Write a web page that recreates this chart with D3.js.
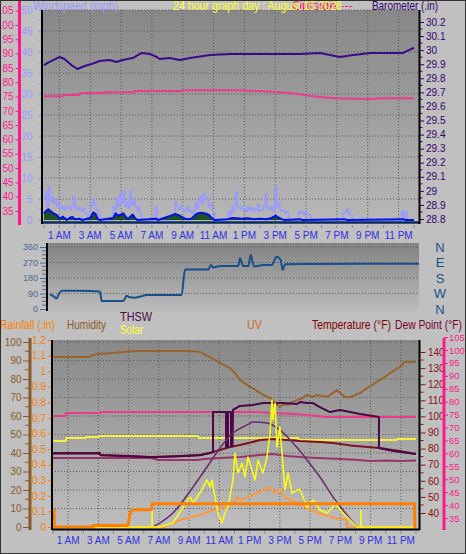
<!DOCTYPE html>
<html><head><meta charset="utf-8">
<script src="https://cdn.jsdelivr.net/npm/d3@7"></script>
<style>body{margin:0;background:#c0c0c0}svg{display:block}text{font-family:"Liberation Sans",Arial,sans-serif}</style>
</head><body><svg id="c" width="466" height="554"></svg>
<script>
// ---------- DATA ----------
const labelHours = [1,3,5,7,9,11,13,15,17,19,21,23];
const hourLabels = ["1 AM","3 AM","5 AM","7 AM","9 AM","11 AM","1 PM","3 PM","5 PM","7 PM","9 PM","11 PM"];
const windTicks = [0,5,10,15,20,25,30,35,40,45,50];
const tempTopTicks = [35,40,45,50,55,60,65,70,75,80,85,90,95,100,105];
const baroTicks = [28.8,28.9,29,29.1,29.2,29.3,29.4,29.5,29.6,29.7,29.8,29.9,30,30.1,30.2];
const dirTicks = [0,90,180,270,360];
const dirLetters = ["N","W","S","E","N"];
const humTicks = [0,10,20,30,40,50,60,70,80,90,100];
const rainTicks = [0,0.1,0.2,0.3,0.4,0.5,0.6,0.7,0.8,0.9,1,1.1,1.2];
const tempTicks = [40,50,60,70,80,90,100,110,120,130,140];
const dewTicks = [35,40,45,50,55,60,65,70,75,80,85,90,95,100,105];

// top panel: [hour, value]
const barometer = [[0,29.894],[0.35,29.916],[1.0,29.951],[1.33,29.937],[1.78,29.894],[2.17,29.866],[2.63,29.887],[3.09,29.901],[3.6,29.923],[4.26,29.930],[4.71,29.916],[5.1,29.930],[5.75,29.944],[6.34,29.980],[6.86,29.973],[7.32,29.951],[7.5,29.937],[8.15,29.944],[8.8,29.930],[9.47,29.944],[10.77,29.965],[12.07,29.973],[16.6,29.973],[17.9,29.980],[19.2,29.951],[20.07,29.965],[21.2,29.980],[22.94,29.980],[23.3,29.980],[23.8,30.008],[24,30.015]];
const outsideTemp = [[0,75.1],[1.2,75.1],[1.25,75.5],[2.3,75.5],[2.35,76.2],[3.8,76.2],[3.85,76.5],[5.8,76.5],[5.85,76.9],[9,76.9],[9.05,77.2],[12.5,77.2],[14,76.9],[16,76.2],[17.8,74.8],[19,74.4],[21,74.1],[22,74.4],[24,74.4]];
const windGust = [[0,5.2],[0.07,6.7],[0.17,3.2],[0.28,7.8],[0.39,4.4],[0.5,5.6],[0.6,4.0],[0.71,4.8],[0.82,3.2],[0.93,4.0],[1.04,2.8],[1.15,3.2],[1.25,2.4],[1.36,3.2],[1.47,2.8],[1.58,3.2],[1.69,2.4],[1.79,3.2],[1.9,5.6],[2.01,2.8],[2.12,3.2],[2.23,2.4],[2.33,2.8],[2.44,2.0],[2.55,2.8],[2.66,1.6],[2.81,0],[2.98,3.2],[3.16,5.0],[3.26,3.6],[3.37,2.4],[3.52,1.2],[3.63,0],[4.49,3.2],[4.6,2.4],[4.71,5.2],[4.82,3.2],[4.93,6.0],[5.03,4.0],[5.14,6.7],[5.25,3.2],[5.36,4.4],[5.47,2.8],[5.58,7.1],[5.69,3.6],[5.8,4.8],[5.9,3.2],[6.01,2.4],[6.12,3.2],[6.22,1.6],[6.33,0],[7.2,3.2],[7.35,0],[8.5,4.4],[8.61,3.2],[8.72,2.4],[8.82,3.2],[8.93,2.8],[9.04,2.0],[9.15,2.4],[9.26,3.2],[9.36,2.0],[9.47,2.4],[9.58,1.6],[9.68,2.0],[9.79,4.0],[9.9,2.8],[10.01,4.4],[10.12,5.6],[10.22,4.0],[10.33,6.3],[10.44,4.8],[10.55,5.2],[10.66,3.2],[10.77,4.0],[10.87,2.4],[10.98,1.6],[11.09,0],[11.95,2.0],[12.06,1.2],[12.17,3.2],[12.28,2.0],[12.43,6.7],[12.54,3.2],[12.65,2.8],[12.76,3.2],[12.87,2.4],[12.98,2.8],[13.09,2.0],[13.2,3.2],[13.31,2.4],[13.42,2.8],[13.52,2.0],[13.63,2.8],[13.74,2.4],[13.85,3.6],[13.96,2.0],[14.07,2.4],[14.23,3.2],[14.34,6.3],[14.44,2.8],[14.55,3.2],[14.66,2.4],[14.76,3.2],[14.87,2.0],[14.98,7.9],[15.09,3.2],[15.2,4.0],[15.3,2.4],[15.41,2.0],[15.52,2.4],[15.63,1.6],[15.74,2.0],[15.85,0],[16.5,2.0],[16.6,1.6],[16.72,2.0],[16.83,1.2],[16.93,2.0],[17.04,1.6],[17.15,1.2],[17.3,0],[19.4,1.6],[19.52,2.0],[19.63,2.8],[19.74,1.6],[19.85,1.2],[20.0,0],[23.19,2.0],[23.3,0.8],[23.41,2.0],[23.55,0],[24,0]];
const windAvg = [[0,1.5],[0.1,2.0],[0.28,2.5],[0.45,2.0],[0.6,1.6],[0.82,1.2],[1.04,0.3],[1.2,0.8],[1.36,0.4],[1.47,0],[1.7,0.6],[1.85,0.7],[2.0,0.2],[2.3,0.3],[2.5,0],[3.0,0.5],[3.2,1.8],[3.35,1.4],[3.5,0.2],[3.6,0],[4.49,0.5],[4.65,1.6],[4.8,1.0],[5.0,1.3],[5.14,1.6],[5.3,0.8],[5.45,0.2],[5.6,0.8],[5.75,1.3],[5.9,0.5],[6.05,0],[7.25,0.3],[7.4,0],[8.5,1.4],[8.7,1.2],[8.9,0.8],[9.15,0.3],[9.4,0.2],[9.6,0.4],[9.8,1.2],[10.0,1.6],[10.2,1.7],[10.5,1.5],[10.7,1.2],[10.9,0.4],[11.05,0],[11.9,0.2],[12.2,0.5],[12.5,0.4],[12.8,0.3],[13.2,0.4],[13.6,0.2],[14.0,0.3],[14.4,0.2],[14.7,0.4],[14.9,0.8],[15.05,1.0],[15.2,0.6],[15.4,0.2],[15.6,0],[16.6,0.2],[16.75,0],[19.5,0.2],[19.65,0],[23.3,0.2],[23.45,0],[24,0]];

// middle panel
const windDir = [[0,87],[0.22,75],[0.43,62],[0.6,91],[0.76,106],[1.95,106],[3.25,101],[3.36,46],[4.77,46],[4.98,77],[5.2,68],[5.5,66],[5.85,72],[6.28,81],[8.56,81],[8.78,230],[10.3,230],[10.47,255],[10.62,241],[11.06,250],[12.25,250],[12.36,294],[12.57,250],[12.9,250],[13.05,313],[13.27,248],[13.87,255],[14.42,255],[14.74,304],[15.0,285],[15.13,227],[15.28,260],[16.58,262],[24,263]];

// bottom panel
const humidity = [[0,91.9],[2.45,91.9],[2.5,92.7],[2.98,93.5],[3.9,94.1],[5.42,95.1],[7.07,95.1],[9.06,95.1],[9.72,94.6],[10.2,92.5],[10.7,90.3],[11.2,88.0],[11.7,85.9],[12.0,83.5],[12.36,79.5],[13.02,75.7],[13.3,74.5],[13.69,72.4],[14.0,71.0],[14.35,69.7],[14.7,67.0],[15.0,64.9],[15.3,66.5],[15.47,65.9],[15.8,67.5],[16.13,68.6],[16.5,69.7],[16.79,71.4],[17.1,70.3],[17.45,71.4],[17.8,70.8],[18.12,70.3],[18.5,72.4],[18.78,74.1],[19.0,72.4],[19.3,70.3],[19.64,70.3],[20.0,71.4],[20.3,72.4],[20.76,75.1],[21.29,77.8],[21.82,80.5],[22.41,83.8],[22.94,86.5],[23.27,89.2],[24,89.2]];
const pinkTrace = [[0,74.5],[0.8,74.5],[0.85,75.6],[3.1,75.6],[3.15,76.0],[13.5,76.0],[14.5,75.6],[16,75.2],[17.5,74.5],[18,74.1],[24,74.1]];
const yellowFlat = [[0,84.7],[0.85,84.7],[0.9,86.6],[2.15,86.6],[2.2,87.2],[3.0,87.2],[3.05,87.8],[9.6,87.8],[9.65,86.6],[16.2,86.6],[16.25,85.3],[22.7,85.3],[22.75,86.0],[24,86.0]];
const temperature = [[0,77.3],[3.1,77.3],[3.15,76.0],[5.1,75.4],[6.55,74.8],[8.4,75.4],[9.7,76.0],[10.4,77.5],[11.04,79.1],[11.7,81.0],[12.36,82.2],[13.2,84.1],[13.7,85.3],[14.55,86.0],[15.5,85.3],[16.33,84.7],[17.65,84.1],[18.5,83.5],[19.64,82.0],[21.6,80.4],[22.9,78.5],[24,76.6]];
const dewPoint = [[0,74.2],[6.5,74.2],[7.0,72.9],[9.5,72.9],[10.0,73.5],[11.0,74.2],[12.36,74.8],[13.5,75.8],[14.55,76.6],[15.5,75.4],[16.33,74.8],[17.5,74.2],[18.98,73.5],[20,73.0],[21,72.3],[22,72.6],[23,72.3],[24,72.6]];
const thsw = [[0,77.0],[3.1,77.0],[3.15,75.8],[5.1,75.2],[6.55,74.6],[8.4,75.2],[9.7,75.8],[10.4,77.3],[10.58,77.8],[10.58,102.7],[11.44,102.7],[11.44,81.0],[11.57,81.0],[11.57,102.7],[11.77,102.7],[11.77,81.5],[11.87,81.5],[11.9,104],[12.36,106.5],[13.22,107.1],[13.88,108.3],[14.55,108.3],[15.21,108.3],[16.13,107.7],[16.33,108.9],[16.79,108.3],[17.19,108.3],[17.65,105.8],[18.31,102.7],[18.98,104],[19.64,102.7],[20.3,101.5],[21.16,100.2],[21.55,99.6],[21.55,80.4],[22.5,78.5],[24,76.6]];
const solarMax = [[6.61,0],[7.93,90],[9.26,257],[10.18,385],[11.04,507],[11.9,603],[12.83,655],[13.22,674],[14.15,668],[15.0,623],[15.87,539],[16.33,488],[16.79,430],[17.65,321],[18.51,193],[20.1,0]];
const solar = [[0,0],[7.07,0],[7.93,26],[8.6,128],[9.06,193],[9.26,154],[9.72,218],[10.18,302],[10.38,257],[10.51,302],[10.71,193],[10.91,90],[11.17,26],[11.37,90],[11.57,128],[11.9,302],[12.03,475],[12.23,347],[12.5,411],[12.69,321],[12.89,449],[13.16,366],[13.36,302],[13.55,430],[13.88,347],[14.15,449],[14.35,603],[14.48,815],[14.55,687],[14.68,796],[14.81,513],[15.0,642],[15.14,475],[15.34,237],[15.54,347],[15.8,218],[16.13,237],[16.33,240],[16.53,193],[16.79,128],[17.19,173],[17.65,109],[18.12,90],[18.51,128],[18.64,160],[18.84,128],[19.17,90],[19.64,45],[20.1,0],[24,0]];
const sunMarks = [[6.55,110],[20.36,110]];
const uv = [[0,0],[7.3,0],[8.4,0.45],[9.7,0.77],[10.6,1.09],[11.0,1.22],[11.5,1.28],[11.9,1.6],[12.2,1.9],[12.4,1.73],[12.9,1.93],[13.5,2.18],[13.9,2.37],[14.3,2.57],[14.6,2.2],[15.0,2.4],[15.3,1.9],[15.7,1.75],[16.3,1.5],[16.8,1.2],[17.3,1.0],[17.9,0.77],[18.6,0.58],[19.2,0.51],[19.4,0.45],[19.45,0],[24,0]];
const rain = [[0,0.11],[0.06,0.11],[0.08,0],[2.62,0],[2.64,0.01],[4.95,0.01],[5.05,0.06],[5.15,0.1],[5.3,0.11],[6.5,0.11],[6.55,0.15],[23.9,0.15],[23.92,0],[24,0]];

// ---------- DRAW ----------
const svg = d3.select("#c");
const defs = svg.append("defs");
function grad(id,c1,c2){const g=defs.append("linearGradient").attr("id",id).attr("x1",0).attr("y1",0).attr("x2",0).attr("y2",1);
 g.append("stop").attr("offset",0).attr("stop-color",c1);g.append("stop").attr("offset",1).attr("stop-color",c2);}
grad("gTop","#878787","#b8b8b8");grad("gMid","#828282","#bcbcbc");grad("gBot","#888888","#bebebe");
function clip(id,x,y,w,h){defs.append("clipPath").attr("id",id).append("rect").attr("x",x).attr("y",y).attr("width",w).attr("height",h);}

svg.append("rect").attr("width",466).attr("height",554).attr("fill","#c0c0c0");

const TOP={x0:42,x1:419,y0:10,y1:223};
const MID={x0:47,x1:419,y0:243,y1:311};
const BOT={x0:52,x1:419,y0:340,y1:529};
clip("cTop",TOP.x0,TOP.y0,TOP.x1-TOP.x0,TOP.y1-TOP.y0);
clip("cMid",MID.x0,MID.y0,MID.x1-MID.x0,MID.y1-MID.y0);
clip("cBot",BOT.x0,BOT.y0,BOT.x1-BOT.x0,BOT.y1-BOT.y0);

const xTop=d3.scaleLinear([0,24],[44,414]);
const yWind=d3.scaleLinear([0,50],[220,10]);
const yTempTop=d3.scaleLinear([35,100],[211,25]);
const yBaro=d3.scaleLinear([28.8,30.2],[219,22]);
const xMid=d3.scaleLinear([0,24],[50,419]);
const yDir=d3.scaleLinear([0,360],[309,247]);
const xBot=d3.scaleLinear([0,24],[53,416]);
const yHum=d3.scaleLinear([0,100],[527,342]);
const yRain=d3.scaleLinear([0,1.2],[527,340]);
const yTemp=d3.scaleLinear([40,140],[513,352]);
const yDew=d3.scaleLinear([35,100],[518,350]);
const ySolar=d3.scaleLinear([0,1200],[527,340]);
const yUV=d3.scaleLinear([0,12],[527,340]);

function panelBg(P,gid){
 svg.append("rect").attr("x",P.x0).attr("y",P.y0).attr("width",P.x1-P.x0).attr("height",P.y1-P.y0).attr("fill",`url(#${gid})`);
}
panelBg(TOP,"gTop");panelBg(MID,"gMid");panelBg(BOT,"gBot");

const gridCol="#5a5a5a";
function vgrid(P,x){labelHours.forEach(h=>{svg.append("line").attr("x1",x(h)).attr("x2",x(h)).attr("y1",P.y0).attr("y2",P.y1)
 .attr("stroke",gridCol).attr("stroke-width",1).attr("stroke-dasharray","1,2");});}
function hgrid(P,vals,y){vals.forEach(v=>{svg.append("line").attr("x1",P.x0).attr("x2",P.x1).attr("y1",y(v)).attr("y2",y(v))
 .attr("stroke",gridCol).attr("stroke-width",1).attr("stroke-dasharray","1,2");});}
vgrid(TOP,xTop);hgrid(TOP,windTicks.slice(1),yWind);
hgrid(MID,dirTicks.slice(1),yDir);
vgrid(BOT,xBot);hgrid(BOT,humTicks.slice(1),yHum);

function draw(clipId,data,x,y,color,w,curve){
 svg.append("path").datum(data).attr("clip-path",`url(#${clipId})`).attr("fill","none").attr("stroke",color).attr("stroke-width",w)
  .attr("stroke-linejoin","round").attr("d",d3.line().x(d=>x(d[0])).y(d=>y(d[1])).curve(curve||d3.curveLinear));
}
function label(x,y,txt,color,size,len){const t=svg.append("text").attr("x",x).attr("y",y).attr("fill",color).style("font-size",size+"px").text(txt);
 if(len) t.attr("textLength",len).attr("lengthAdjust","spacingAndGlyphs"); return t;}

// ----- top panel series
draw("cTop",windGust,xTop,yWind,"#9a9aff",1.5,d3.curveStepAfter);
svg.append("path").datum(windAvg).attr("clip-path","url(#cTop)").attr("fill","#1f5020")
 .attr("d",d3.area().x(d=>xTop(d[0])).y0(yWind(0)).y1(d=>yWind(d[1]*1.15))(windAvg));
draw("cTop",windAvg,xTop,yWind,"#0010f0",2);
draw("cTop",outsideTemp,xTop,yTempTop,"#ee3a8c",2);
draw("cTop",barometer,xTop,yBaro,"#3a0a8a",2);
// frame
svg.append("line").attr("x1",TOP.x0).attr("x2",TOP.x1).attr("y1",222.5).attr("y2",222.5).attr("stroke","#0c2d5c").attr("stroke-width",2.5);
svg.append("line").attr("x1",42).attr("x2",42).attr("y1",TOP.y0).attr("y2",224).attr("stroke","#000").attr("stroke-width",2);
svg.append("line").attr("x1",419.5).attr("x2",419.5).attr("y1",TOP.y0).attr("y2",224).attr("stroke","#000").attr("stroke-width",2);

function styleAxis(g,color,size){g.attr("font-family",null);g.select(".domain").remove();
 g.selectAll("text").attr("fill",color).style("font-size",size+"px").style("font-family","'Liberation Sans',Arial,sans-serif");
 g.selectAll("line").attr("stroke",color);}
function minor(vals,y,x1,x2,color){vals.forEach(v=>svg.append("line").attr("x1",x1).attr("x2",x2).attr("y1",y(v)).attr("y2",y(v)).attr("stroke",color));}

// top axes
const pink="#ff1a8c";
styleAxis(svg.append("g").attr("transform","translate(19.5,0)").call(d3.axisLeft(yTempTop).tickValues(tempTopTicks).tickSize(4).tickPadding(2)),pink,10);
svg.append("line").attr("x1",19.5).attr("x2",19.5).attr("y1",0).attr("y2",225).attr("stroke",pink).attr("stroke-width",3);
styleAxis(svg.append("g").attr("transform","translate(41,0)").call(d3.axisLeft(yWind).tickValues(windTicks).tickSize(3).tickPadding(5.5)),"#9a9aff",10);
minor(d3.range(2.5,50,5),yWind,38.5,41,"#9a9aff");
styleAxis(svg.append("g").attr("transform","translate(420,0)").call(d3.axisRight(yBaro).tickValues(baroTicks).tickSize(4).tickPadding(2).tickFormat(v=>String(+v.toFixed(1)))),"#33006e",10);
minor(d3.range(28.85,30.2,0.1),yBaro,420,422.5,"#33006e");
// hour ticks + labels top
d3.range(0,25).forEach(h=>svg.append("line").attr("x1",xTop(h)).attr("x2",xTop(h)).attr("y1",225).attr("y2",228).attr("stroke","#8888aa"));
labelHours.forEach((h,i)=>svg.append("text").attr("x",xTop(h)).attr("y",239).attr("text-anchor","middle").attr("fill","#3030e0").style("font-size","10px").text(hourLabels[i]));

// titles (pink drawn beneath the yellow title, as in the original)
label(33,9.5,"Windspeed (mph)","#9a9aff",12,85);
label(292,9.5,"Outside ---",pink,12,61);
label(173,9.5,"24 hour graph day : August 15 2026","#ffff33",12,169);
label(372,9.5,"Barometer (.in)","#33006e",12,66);

// ----- middle panel
draw("cMid",windDir,xMid,yDir,"#164f8c",2,d3.curveMonotoneX);
svg.append("line").attr("x1",47).attr("x2",47).attr("y1",MID.y0).attr("y2",MID.y1).attr("stroke","#000").attr("stroke-width",2);
styleAxis(svg.append("g").attr("transform","translate(46,0)").call(d3.axisLeft(yDir).tickValues(dirTicks).tickSize(6).tickPadding(2)),"#4a6a90",9);
minor(d3.range(22.5,360,22.5).filter(v=>v%90),yDir,42,46,"#4a6a90");
dirTicks.forEach((v,i)=>svg.append("text").attr("x",440).attr("y",yDir(v)+4.5).attr("text-anchor","middle").attr("fill","#1c4f8c").style("font-size","13px").text(dirLetters[i]));

// ----- bottom panel series
draw("cBot",humidity,xBot,yHum,"#99642c",2);
draw("cBot",pinkTrace,xBot,yDew,"#ee3a8c",2);
draw("cBot",yellowFlat,xBot,yTemp,"#f4f040",2);
draw("cBot",dewPoint,xBot,yTemp,"#9a3468",2);
draw("cBot",temperature,xBot,yTemp,"#7c1020",2);
draw("cBot",thsw,xBot,yTemp,"#4a0646",2);
draw("cBot",solarMax,xBot,ySolar,"#6a2a6a",1.5,d3.curveMonotoneX);
draw("cBot",uv,xBot,yUV,"#ff9a3c",2);
draw("cBot",solar,xBot,ySolar,"#ffff10",1.5);
sunMarks.forEach(d=>svg.append("line").attr("x1",xBot(d[0])).attr("x2",xBot(d[0])).attr("y1",ySolar(0)).attr("y2",ySolar(d[1])).attr("stroke","#ffff10").attr("stroke-width",1.5));
draw("cBot",rain,xBot,yRain,"#ff8000",3);
// frame
svg.append("line").attr("x1",52).attr("x2",52).attr("y1",BOT.y0).attr("y2",530).attr("stroke","#000").attr("stroke-width",2);
svg.append("line").attr("x1",52).attr("x2",420).attr("y1",529.5).attr("y2",529.5).attr("stroke","#000").attr("stroke-width",2);
svg.append("line").attr("x1",419.5).attr("x2",419.5).attr("y1",BOT.y0).attr("y2",530).attr("stroke","#000").attr("stroke-width",2);

// bottom axes
const brown="#8b5a2b";
styleAxis(svg.append("g").attr("transform","translate(29,0)").call(d3.axisLeft(yHum).tickValues(humTicks).tickSize(6).tickPadding(1.5)),brown,10);
minor(d3.range(5,100,10),yHum,25,29,brown);
svg.append("line").attr("x1",30).attr("x2",30).attr("y1",338).attr("y2",530).attr("stroke",brown).attr("stroke-width",3);
styleAxis(svg.append("g").attr("transform","translate(51,0)").call(d3.axisLeft(yRain).tickValues(rainTicks).tickSize(3).tickPadding(2).tickFormat(v=>String(+v.toFixed(1)))),"#ff8000",10);
styleAxis(svg.append("g").attr("transform","translate(420.5,0)").call(d3.axisRight(yTemp).tickValues(tempTicks).tickSize(5).tickPadding(2.5)),"#8b1010",10);
minor(d3.range(45,145,10),yTemp,420.5,423.5,"#8b1010");
styleAxis(svg.append("g").attr("transform","translate(444,0)").call(d3.axisRight(yDew).tickValues(dewTicks).tickSize(4).tickPadding(1)),pink,9.5);
svg.append("line").attr("x1",444).attr("x2",444).attr("y1",338).attr("y2",530).attr("stroke",pink).attr("stroke-width",3);
d3.range(0,25).forEach(h=>svg.append("line").attr("x1",xBot(h)).attr("x2",xBot(h)).attr("y1",531).attr("y2",534).attr("stroke","#8888aa"));
labelHours.forEach((h,i)=>svg.append("text").attr("x",xBot(h)).attr("y",544).attr("text-anchor","middle").attr("fill","#3030e0").style("font-size","10px").text(hourLabels[i]));

// bottom titles
label(0,329,"Rainfall (.in)","#ff8000",12,55);
label(67,329,"Humidity",brown,12,39);
label(120,321,"THSW","#4a0646",12,32);
label(120,334,"Solar","#ffff33",12,23);
label(247,329,"UV","#cc6a1a",12,15);
label(312,329,"Temperature (°F)","#800000",12,79);
label(395,329,"Dew Point (°F)","#7a0030",12,67);

// outer border
svg.append("rect").attr("x",0.5).attr("y",0.5).attr("width",465).attr("height",553).attr("fill","none").attr("stroke","#303030");
</script></body></html>
